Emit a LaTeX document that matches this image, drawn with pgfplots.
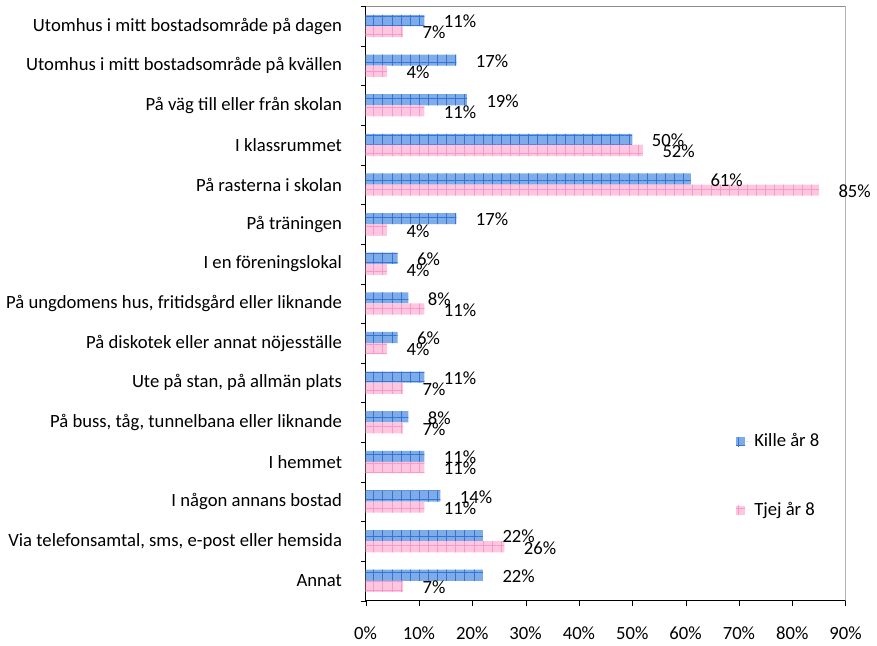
\documentclass[border=0pt]{standalone}
\usepackage{fontspec}
\setmainfont{Carlito}
\usepackage{pgfplots}
\pgfplotsset{compat=1.18}
\usetikzlibrary{patterns,patterns.meta}
\definecolor{killeblue}{RGB}{125,172,232}
\definecolor{killeline}{RGB}{55,115,210}
\definecolor{tjejpink}{RGB}{255,198,225}
\definecolor{tjejline}{RGB}{245,155,198}
\definecolor{framegray}{RGB}{140,140,140}
\begin{document}
\fontsize{18.5}{22}\selectfont
\begin{tikzpicture}
\begin{axis}[
  scale only axis, width=474bp, height=587bp,
  xbar, bar width=0.28,
  y dir=reverse,
  ymin=-0.5, ymax=14.5,
  xmin=0, xmax=90,
  xtick={0,10,...,90},
  xticklabel={\pgfmathprintnumber{\tick}\%},
  /pgf/number format/assume math mode=true,
  xticklabel style={yshift=-14bp},
  ytick={0,...,14},
  yticklabels={Utomhus i mitt bostadsområde på dagen,
    Utomhus i mitt bostadsområde på kvällen,
    På väg till eller från skolan,
    I klassrummet,
    På rasterna i skolan,
    På träningen,
    I en föreningslokal,
    {På ungdomens hus, fritidsgård eller liknande},
    På diskotek eller annat nöjesställe,
    {Ute på stan, på allmän plats},
    {På buss, tåg, tunnelbana eller liknande},
    I hemmet,
    I någon annans bostad,
    {Via telefonsamtal, sms, e-post eller hemsida},
    Annat},
  y tick style={draw=none},
  yticklabel style={xshift=-12bp},
  extra y ticks={-0.5,0.5,...,14.5},
  extra y tick labels={},
  extra y tick style={y tick style={draw=black}, major tick length=5bp, tick align=outside},
  x tick style={draw=black},
  major tick length=5bp, tick align=outside,
  axis x line*=bottom, axis y line*=left,
  axis line style={black, line width=0.8bp},
  x axis line style={-}, y axis line style={-},
  point meta=x,
  nodes near coords={\pgfmathprintnumber{\pgfplotspointmeta}\%},
  nodes near coords style={anchor=west, xshift=13bp, yshift=-1bp, text=black, font=\fontsize{18.5}{22}\selectfont},
  legend style={at={(rel axis cs:0.765,0.288)}, anchor=north west, draw=none, fill=none, row sep=48bp, font=\fontsize{18.5}{22}\selectfont},
  legend cell align=left,
  legend image code/.code={\fill[#1] (0bp,-4.5bp) rectangle (9bp,4.5bp); \path (0bp,0bp) -- (16bp,0bp);},
]
\addplot+[bar shift=-0.14, draw=none, fill=killeblue,
  postaction={pattern={Hatch[angle=0,distance=9bp,line width=0.6bp]}, pattern color=killeline}]
  coordinates {(11,0) (17,1) (19,2) (50,3) (61,4) (17,5) (6,6) (8,7) (6,8) (11,9) (8,10) (11,11) (14,12) (22,13) (22,14)};
\addlegendentry{Kille år 8}
\addplot+[bar shift=0.14, draw=none, fill=tjejpink,
  postaction={pattern={Hatch[angle=0,distance=9bp,line width=0.6bp]}, pattern color=tjejline}]
  coordinates {(7,0) (4,1) (11,2) (52,3) (85,4) (4,5) (4,6) (11,7) (4,8) (7,9) (7,10) (11,11) (11,12) (26,13) (7,14)};
\addlegendentry{Tjej år 8}
\draw[framegray, line width=1bp] (rel axis cs:0,1) -- (rel axis cs:1,1) -- (rel axis cs:1,0);
\path (rel axis cs:1,0.5) ++(34bp,0) coordinate (rightedge);
\end{axis}
\end{tikzpicture}
\end{document}
